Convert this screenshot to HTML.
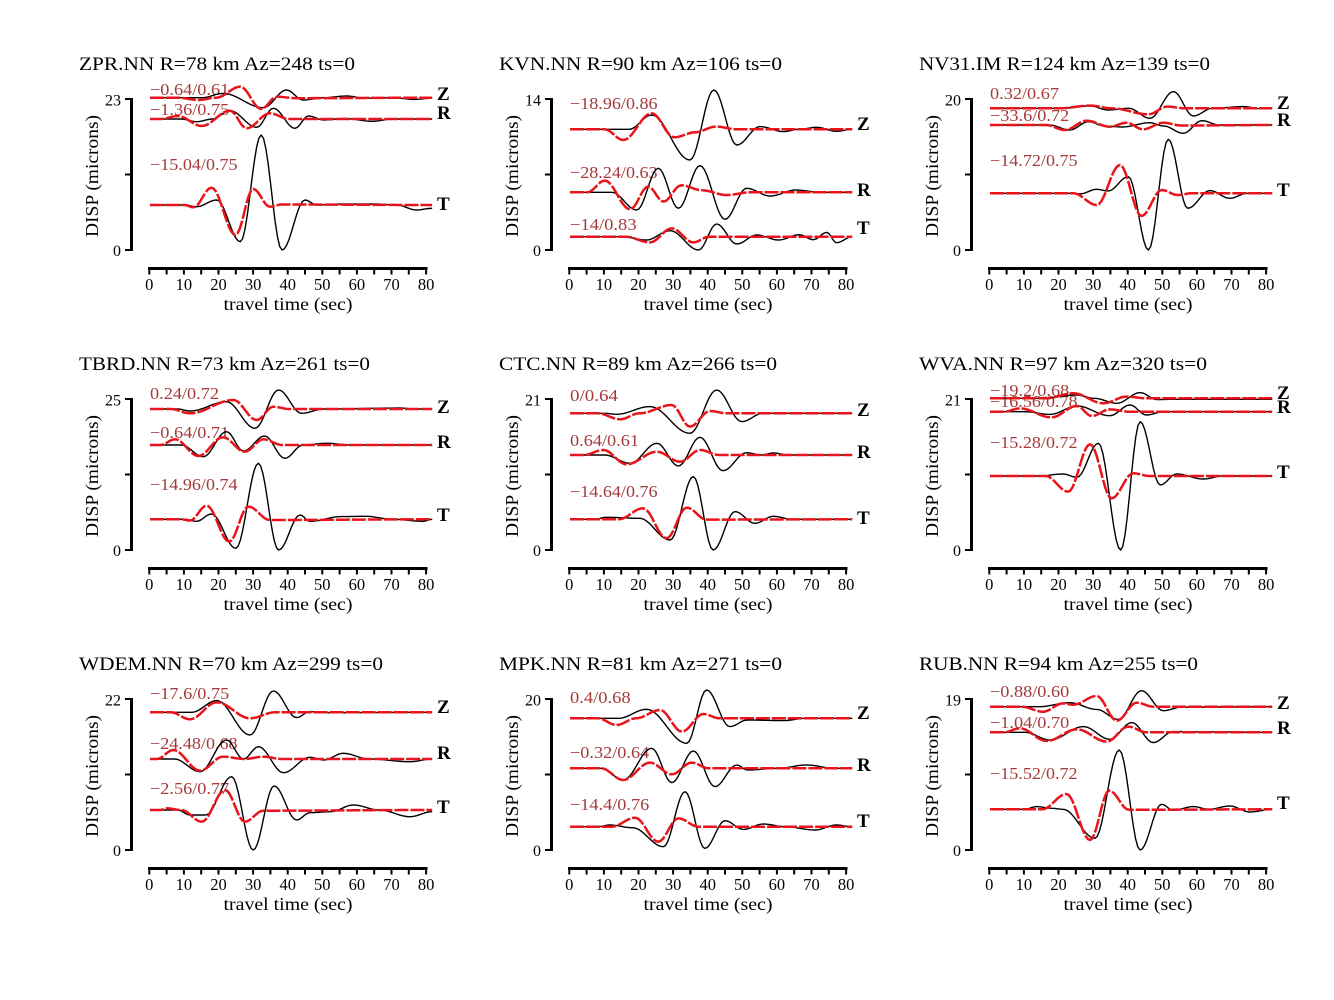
<!DOCTYPE html>
<html><head><meta charset="utf-8">
<style>
html,body{margin:0;padding:0;background:#fff;}
svg{display:block;}
text{font-family:"Liberation Serif",serif;}
</style></head>
<body>
<svg id="s" xmlns="http://www.w3.org/2000/svg" width="1334" height="1000" viewBox="0 0 1334 1000"></svg>
<script>
const P=[
{t:"ZPR.NN R=78 km Az=248 ts=0",tw:276,ym:"23",
 b:[97.7,119,205],lab:[["−0.64/0.61",95],["−1.36/0.75",115],["−15.04/0.75",170]],side:[99,118,209],
 k:[
 [[0,0],[15,0],[21,-4.3],[32.6,10],[39.3,-7.7],[44,2.3],[50,0],[56.6,-1.7],[62,0.5],[70,0],[76,1.7],[81.2,0.5]],
 [[0,0],[9,0],[13.4,2.7],[18,0],[23,-8.3],[30.7,8.3],[35.5,-10.7],[41.7,9.3],[45.6,-3],[50,1],[56,-0.5],[64,2.3],[70,0],[81.2,0]],
 [[0,0],[10,0],[13.4,1.7],[19.2,-5],[26,36.7],[32,-70],[38,45],[44.6,-5],[48,0],[55,-1],[65,-1],[71,0],[76.7,5],[81.2,3.3]]],
 r:[
 [[0,0],[8,0],[14,2.3],[19,0],[26,-11],[32,11.3],[36.5,-1],[42,0.5],[81.2,0]],
 [[0,0],[3,0],[8,-3],[14.9,7],[23,-8.3],[27.8,9.3],[34.5,-5.7],[40,0],[81.2,0]],
 [[0,0],[10,0],[12.5,2.3],[17.7,-17.3],[24.6,30],[29.7,-16],[34.5,1.7],[38,-0.5],[81.2,0]]]},
{t:"KVN.NN R=90 km Az=106 ts=0",tw:283,ym:"14",
 b:[129.3,192.3,236.7],lab:[["−18.96/0.86",109],["−28.24/0.63",178],["−14/0.83",230]],side:[129,195,233],
 k:[
 [[0,0],[17,0],[23.5,-14.3],[34.5,30.7],[41.4,-39.3],[48,15.7],[54.7,-2.7],[61.4,2.3],[66,0],[71,-2],[76.7,2],[81.2,0]],
 [[0,0],[12,0],[19.2,17.7],[25.4,-24],[31.2,16],[37.4,-26.7],[44.6,27],[50.8,-4],[57.6,3.7],[65,-2.3],[72,0],[81.2,0]],
 [[0,0],[15,0],[22,3.3],[28.8,-6],[37,13.3],[42.2,-12.7],[48,7.3],[53.7,-1.7],[60,3.3],[66,-2],[70,3],[73.9,-4.3],[76.7,6],[81.2,0]]],
 r:[
 [[0,0],[10,0],[15.3,10.7],[23.5,-16],[30,8],[36,3],[42,-2.7],[48,0],[81.2,0]],
 [[0,0],[5,0],[10,-11.7],[17.3,17],[22.5,-5.7],[26.9,9.3],[32,-7],[38,-2],[45,2.7],[52,0],[81.2,0]],
 [[0,0],[16,0],[23,5.7],[29.3,-8.3],[35.5,5.7],[40,0],[81.2,0]]]},
{t:"NV31.IM R=124 km Az=139 ts=0",tw:291,ym:"20",
 b:[108.3,125,193.3],lab:[["0.32/0.67",99],["−33.6/0.72",121],["−14.72/0.75",166]],side:[108,125,195],
 k:[
 [[0,0],[20,0],[28.8,-2.3],[34,1.7],[40,0],[46,10],[52.8,-16.7],[58.5,7.7],[64,0],[73,-1.7],[78,0.5],[81.2,0]],
 [[0,0],[17,0],[23,5],[28.3,-3.3],[33,1],[38,2],[46,-2.3],[50,1],[55.6,8.3],[61,-4.3],[66,0],[81.2,0]],
 [[0,0],[22,0],[26,0.5],[30.7,-4],[34,-2.3],[39.8,-16.7],[45.6,56.7],[51.3,-54],[56.9,15],[63.3,-2.7],[69,5],[74,0],[81.2,0]]],
 r:[
 [[0,0],[20,0],[28.8,-2.7],[35,0],[45.6,6],[51,-1.7],[56,0],[81.2,0]],
 [[0,0],[16,0],[21.6,5],[27.8,-4.3],[34.5,1.7],[39.3,-2.3],[44,4.3],[49.9,-2.3],[55,0.5],[81.2,0]],
 [[0,0],[24,0],[30.7,11.7],[37.4,-28.3],[43.6,22.7],[49.4,-3.3],[54,1.7],[58,0],[81.2,0]]]},
{t:"TBRD.NN R=73 km Az=261 ts=0",tw:291,ym:"25",
 b:[109,145,219.3],lab:[["0.24/0.72",99],["−0.64/0.71",138],["−14.96/0.74",190]],side:[112,147,220],
 k:[
 [[0,0],[8,0],[11.5,2],[22,-7.3],[30.2,19.3],[37,-19],[43.6,4.3],[50,0],[72,-1],[76,0],[81.2,0]],
 [[0,0],[9,0],[15.3,11.7],[22,-13.3],[26.9,6],[33,-9],[38.8,13.3],[44,0],[50.8,-1.7],[58,0],[81.2,0]],
 [[0,0],[10,0],[13.4,2],[17.7,-5.3],[24.7,29],[31.2,-56],[37,30.7],[43.2,-4.3],[46,2],[55,-2.7],[62,-3],[70,0],[78.6,2],[81.2,0]]],
 r:[
 [[0,0],[6,0],[11.5,4.3],[24,-9],[30.7,11],[35.5,-2.3],[40,0],[81.2,0]],
 [[0,0],[3,0],[7.2,-5.7],[13.9,11],[21,-7.7],[27.3,6.7],[32.6,-5.7],[38,0],[81.2,0]],
 [[0,0],[9,0],[11.5,1.3],[16.3,-13.7],[22.8,22.3],[28.3,-12.7],[34.5,0.7],[81.2,0]]]},
{t:"CTC.NN R=89 km Az=266 ts=0",tw:278,ym:"21",
 b:[113.3,155,219.3],lab:[["0/0.64",101],["0.64/0.61",146],["−14.64/0.76",197]],side:[115,157,223],
 k:[
 [[0,0],[10,0],[13.4,1],[23,-6.7],[34.5,20],[42.2,-23.3],[49.4,8.3],[55.6,0],[81.2,0]],
 [[0,0],[10,0],[17.3,8.3],[25,-11.7],[31.2,11],[37.4,-17.7],[44,15.7],[50.8,-2.3],[55,0],[58.5,-2],[63,0],[81.2,0]],
 [[0,0],[7,0],[10.5,-2],[20,-1],[28.8,20.7],[35.5,-42.7],[41.2,30.7],[47.5,-7.7],[53.2,4],[58.5,-3],[64,0],[81.2,0]]],
 r:[
 [[0,0],[8,0],[14.4,6],[20,0],[29.3,-8.3],[34.5,13.3],[40.3,-2.3],[45,0],[81.2,0]],
 [[0,0],[4,0],[9.6,-5],[16.3,9.3],[25,-3.3],[31.7,6.7],[37.4,-5],[43,0],[81.2,0]],
 [[0,0],[14,0],[21,-11],[27.8,19],[33.6,-11.7],[39.3,0.3],[81.2,0]]]},
{t:"WVA.NN R=97 km Az=320 ts=0",tw:288,ym:"21",
 b:[98.3,111.7,176],lab:[["−19.2/0.68",96],["−16.56/0.78",107],["−15.28/0.72",148]],side:[98,112,177],
 k:[
 [[0,0],[15,0],[25,-3.3],[30,0],[36.5,5],[43.2,-5.7],[48,1.3],[52,1],[81.2,1]],
 [[0,0],[10,0],[17.3,2.7],[25,-5.7],[34.5,4],[40.3,-6.7],[45,3.3],[50,0],[81.2,0]],
 [[0,0],[14,0],[21,-2],[25,1.3],[31.2,-32.7],[37.6,74],[43.2,-54.3],[49,9],[53.7,-2],[61.4,3],[67,0],[81.2,0]]],
 r:[
 [[0,0],[16,0],[24,-5],[32.6,5],[39.3,-1.7],[45,0],[81.2,0]],
 [[0,0],[4,0],[8.6,-3.3],[17.7,5.7],[25,-5.7],[29.3,4.3],[34.5,-2.3],[40,0],[81.2,0]],
 [[0,0],[16,0],[22.5,15.7],[28.8,-31.7],[35,22.3],[41.2,-2.7],[46,0],[81.2,0]]]},
{t:"WDEM.NN R=70 km Az=299 ts=0",tw:304,ym:"22",
 b:[112.3,159,210],lab:[["−17.6/0.75",99],["−24.48/0.68",149],["−2.56/0.77",194]],side:[112,158,212],
 k:[
 [[0,0],[12,0],[19.2,-11.7],[28.8,22.7],[35.5,-21.3],[42.2,5.3],[46,-0.7],[50,0.5],[81.2,0]],
 [[0,0],[7,0],[14.4,12.7],[22,-19],[26.9,0],[31.2,-12.3],[38.4,13.7],[46,-1.7],[50,1],[55.6,-5.7],[63,0],[74.8,2.7],[81.2,0]],
 [[0,0],[8,0],[11.5,5],[16,5],[23.5,-33.3],[29.7,40],[35.7,-24],[42.2,10],[46,2.7],[52,1.7],[58.5,-5],[66,0],[74.8,6.7],[81.2,1.7]]],
 r:[
 [[0,0],[6,0],[11.5,7],[19.2,-10],[28.8,6],[36,0],[81.2,0]],
 [[0,0],[2,0],[6.7,-9],[14.4,11.7],[21,-2.3],[27.3,0],[32.6,-2.3],[38,0],[81.2,0]],
 [[0,0],[3,0],[4.8,-1.7],[9,0],[14.9,11.7],[21.6,-20],[27.3,11.7],[32.6,0.7],[81.2,0]]]},
{t:"MPK.NN R=81 km Az=271 ts=0",tw:283,ym:"20",
 b:[118.3,168.3,226.7],lab:[["0.4/0.68",103],["−0.32/0.64",158],["−14.4/0.76",210]],side:[118,170,226],
 k:[
 [[0,0],[14,0],[22,-9],[33.6,25],[39.3,-28.3],[46,8.3],[51,1.7],[61.4,2.3],[68,0],[81.2,0]],
 [[0,0],[9,0],[15.3,11.7],[23.5,-20],[29.3,14.3],[35.5,-17.3],[41.7,18.3],[48,-3.3],[51,1.7],[60,0],[68,-3.3],[76,0],[81.2,0]],
 [[0,0],[8,0],[11.5,-1.7],[18,1],[26.9,20],[33.1,-35],[38.8,21.7],[44.6,-6],[49.9,2.7],[55.6,-2.7],[62,0],[70.5,3.3],[76.7,-1.7],[81.2,0]]],
 r:[
 [[0,0],[8,0],[13.4,6.7],[19,0],[25.9,-8.3],[32.2,13.3],[38.4,-4.3],[43,0],[81.2,0]],
 [[0,0],[9,0],[15.3,11.7],[23,-5.7],[29.3,6],[35,-5.7],[40,0],[81.2,0]],
 [[0,0],[12,0],[18.7,-9],[25.4,15],[31.2,-8.3],[37,0],[81.2,0]]]},
{t:"RUB.NN R=94 km Az=255 ts=0",tw:279,ym:"19",
 b:[106.7,132.3,209.3],lab:[["−0.88/0.60",97],["−1.04/0.70",128],["−15.52/0.72",179]],side:[108,133,208],
 k:[
 [[0,0],[14,0],[23,-4],[30.7,2.7],[36.9,12.7],[43.6,-16],[49.9,4],[55,0.5],[81.2,0]],
 [[0,0],[10,0],[17.3,7.7],[26.9,-5.7],[34.5,7],[40.8,-9.7],[47,10.3],[52.7,-0.7],[60,-0.5],[81.2,0]],
 [[0,0],[10,0],[13.4,-2.7],[18,-1],[21,0],[30.2,29],[37.2,-59.3],[43.2,40.7],[49.4,-5],[52.7,1],[58.5,-2.7],[63,0],[69,-3.3],[74.8,2.7],[81.2,0]]],
 r:[
 [[0,0],[9,0],[15.3,5],[21,-3.3],[24,-2],[30.7,-10.7],[36.5,14],[42.2,-4],[47,0],[81.2,0]],
 [[0,0],[4,0],[8.6,-4],[16.3,8.7],[25,-3],[33.6,9.3],[39.8,-5.7],[45,0],[81.2,0]],
 [[0,0],[15,0],[22,-15.3],[28.8,30.7],[34.3,-18.7],[40,0.5],[81.2,0]]]}
];
const svg=document.getElementById('s');
let h='';
function pth(pts,base,cx,cy){
  let d='';
  for(let i=0;i<pts.length-1;i++){
    const [t0,v0]=pts[i],[t1,v1]=pts[i+1];
    const n=Math.max(2,Math.ceil((t1-t0)*1.5));
    for(let j=(i==0?0:1);j<=n;j++){
      const u=j/n,t=t0+(t1-t0)*u,v=v0+(v1-v0)*(1-Math.cos(Math.PI*u))/2;
      const x=cx+150+3.475*t,y=cy+base+v;
      d+=(d?'L':'M')+x.toFixed(2)+' '+y.toFixed(2);
    }
  }
  return d;
}
function lw(s){let w=0;for(const c of s){if(c>='0'&&c<='9')w+=0.5;else if(c=='.')w+=0.25;else w+=0.606;}return w*16.8;}
P.forEach((p,i)=>{
  const cx=(i%3)*420,cy=Math.floor(i/3)*300;
  h+=`<text x="${cx+79}" y="${cy+70}" font-size="18.5" textLength="${p.tw}" lengthAdjust="spacingAndGlyphs">${p.t}</text>`;
  // y axis
  h+=`<line x1="${cx+131.5}" y1="${cy+98}" x2="${cx+131.5}" y2="${cy+251}" stroke="#000" stroke-width="3"/>`;
  [99,174.5,250].forEach(y=>{h+=`<line x1="${cx+125}" y1="${cy+y}" x2="${cx+131.5}" y2="${cy+y}" stroke="#000" stroke-width="2"/>`;});
  h+=`<text x="${cx+121}" y="${cy+105.5}" font-size="16" text-anchor="end">${p.ym}</text>`;
  h+=`<text x="${cx+121}" y="${cy+256}" font-size="16" text-anchor="end">0</text>`;
  h+=`<text transform="translate(${cx+98},${cy+176}) rotate(-90)" font-size="18" text-anchor="middle" textLength="122" lengthAdjust="spacingAndGlyphs">DISP (microns)</text>`;
  // x axis
  h+=`<line x1="${cx+148}" y1="${cy+268.5}" x2="${cx+427.5}" y2="${cy+268.5}" stroke="#000" stroke-width="3"/>`;
  for(let k=0;k<=16;k++){const x=cx+149.3+3.46*5*k;h+=`<line x1="${x}" y1="${cy+268}" x2="${x}" y2="${cy+274.5}" stroke="#000" stroke-width="2"/>`;}
  for(let k=0;k<=8;k++){const x=cx+149.3+3.46*10*k;h+=`<text x="${x}" y="${cy+290}" font-size="16.5" text-anchor="middle">${k*10}</text>`;}
  h+=`<text x="${cx+288}" y="${cy+310}" font-size="17.5" text-anchor="middle" textLength="129" lengthAdjust="spacingAndGlyphs">travel time (sec)</text>`;
  // labels
  p.lab.forEach(([s,y])=>{h+=`<text x="${cx+150}" y="${cy+y}" font-size="16.5" fill="#a53a3a" textLength="${lw(s).toFixed(1)}" lengthAdjust="spacingAndGlyphs">${s}</text>`;});
  ['Z','R','T'].forEach((c,j)=>{h+=`<text x="${cx+437}" y="${cy+p.side[j]+1}" font-size="19" font-weight="bold">${c}</text>`;});
  // traces
  p.k.forEach((pts,j)=>{h+=`<path d="${pth(pts,p.b[j],cx,cy)}" fill="none" stroke="#000" stroke-width="1.4" stroke-linejoin="round"/>`;});
  p.r.forEach((pts,j)=>{h+=`<path d="${pth(pts,p.b[j],cx,cy)}" fill="none" stroke="#e8141a" stroke-width="2.5" stroke-dasharray="14 2" stroke-linejoin="round"/>`;});
});
svg.innerHTML=h;
</script>
</body></html>
